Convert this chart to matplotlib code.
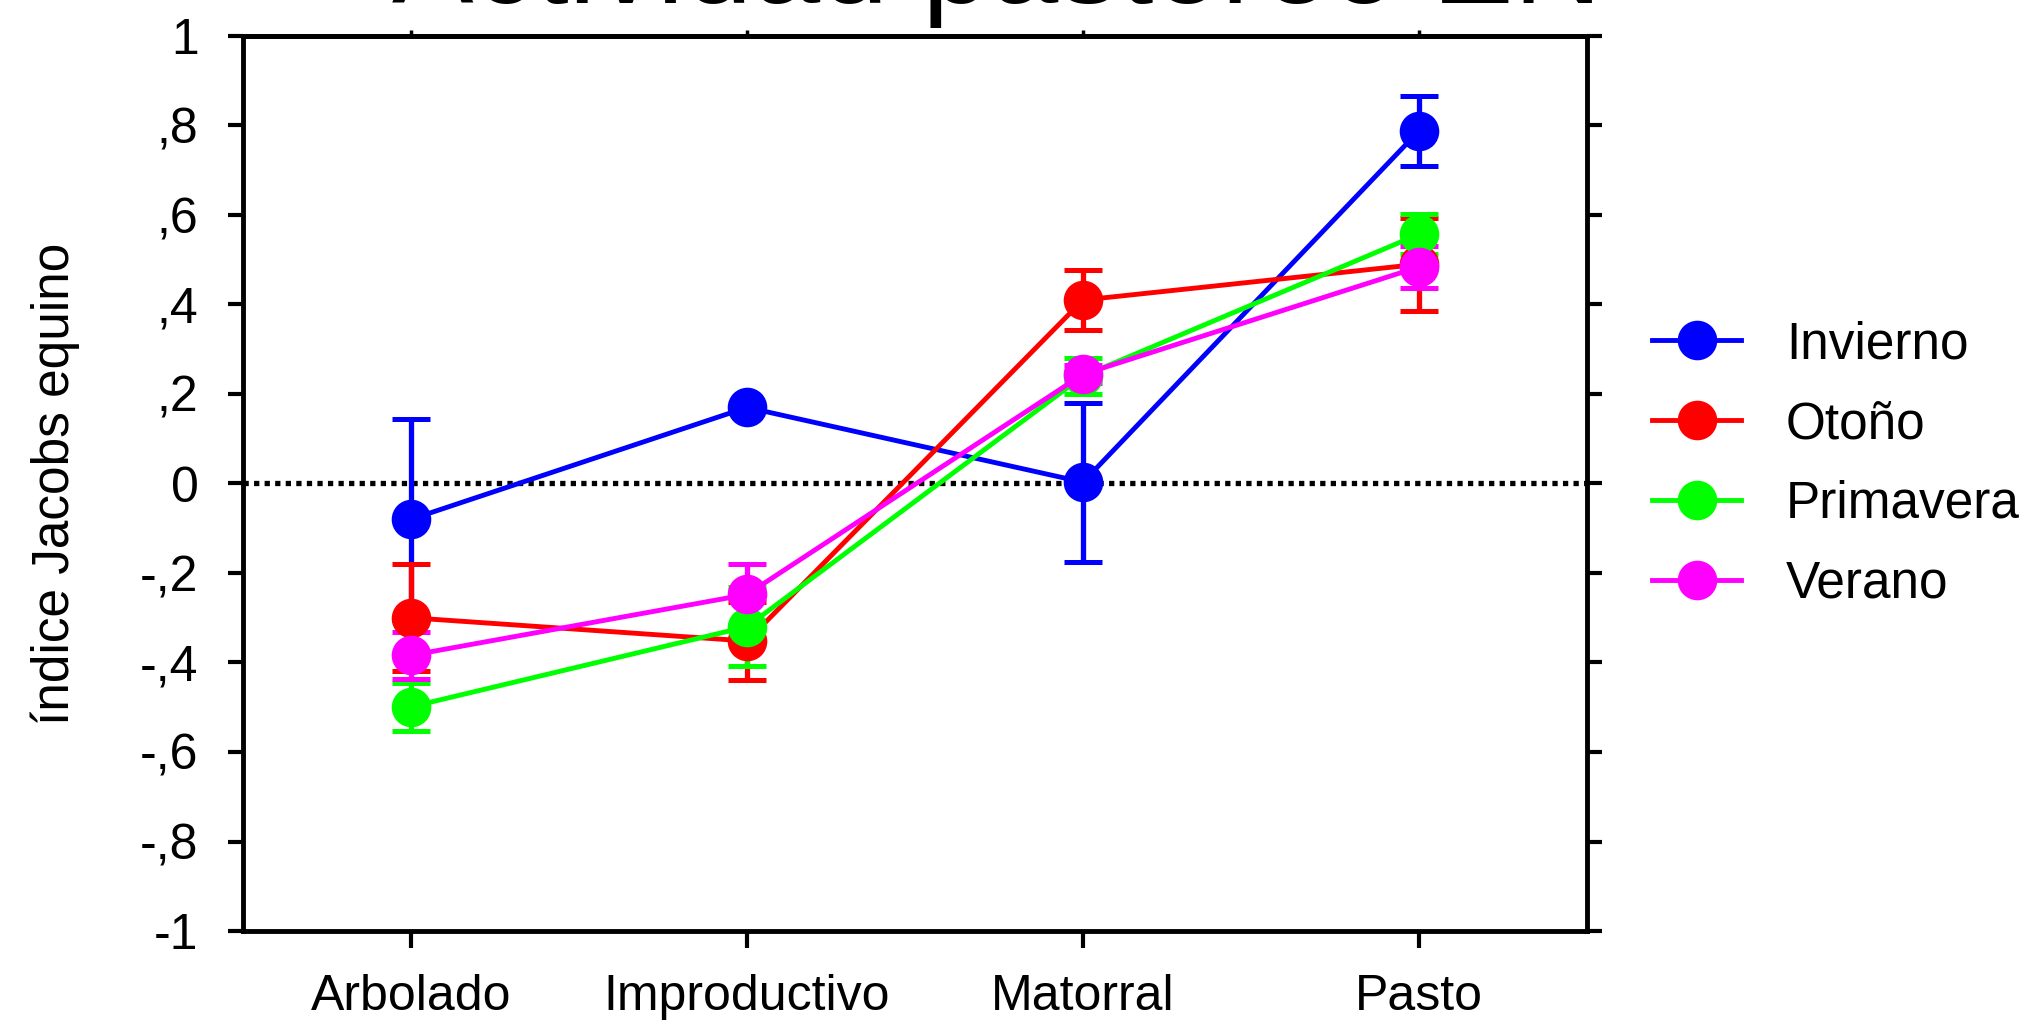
import matplotlib
matplotlib.use("Agg")
import matplotlib.pyplot as plt
import numpy as np

plt.rcParams['font.family'] = ['Liberation Sans', 'DejaVu Sans']

categories = ["Arbolado", "Improductivo", "Matorral", "Pasto"]
series = ["Invierno", "Otoño", "Primavera", "Verano"]
colors = ["#0000FF", "#FF0000", "#00FF00", "#FF00FF"]

invierno = [-0.08, 0.17, 0.003, 0.788]
invierno_err = [0.225, 0.0, 0.178, 0.078]
otono = [-0.30, -0.352, 0.41, 0.49]
otono_err = [0.12, 0.088, 0.068, 0.104]
primavera = [-0.499, -0.32, 0.24, 0.557]
primavera_err = [0.054, 0.088, 0.041, 0.045]
verano = [-0.384, -0.248, 0.244, 0.484]
verano_err = [0.053, 0.069, 0.02, 0.047]

yticks = [1, 0.8, 0.6, 0.4, 0.2, 0, -0.2, -0.4, -0.6, -0.8, -1]
ytick_labels = ["1", ",8", ",6", ",4", ",2", "0", "-,2", "-,4", "-,6", "-,8", "-1"]

title = "Actividad pastoreo EN"
ylabel = "índice Jacobs equino"

fig = plt.figure(figsize=(20.23, 10.21), dpi=100)
ax = fig.add_axes([243/2023, 90/1021, 1344/2023, 895/1021])

x = np.arange(len(categories))
ax.axhline(0, color='black', lw=3.8, linestyle=(0, (1, 1)), zorder=1)

handles = []
for vals, errs, col, name in zip([invierno, otono, primavera, verano],
                                 [invierno_err, otono_err, primavera_err, verano_err],
                                 colors, series):
    c = ax.errorbar(x, vals, yerr=errs, color=col, ecolor=col, lw=3.5,
                    elinewidth=3.8, capsize=14, capthick=3.6,
                    marker='o', markersize=27.5, markeredgecolor=col,
                    markerfacecolor=col, label=name, zorder=3)
    handles.append(c[0])

ax.set_xlim(-0.5, 3.5)
ax.set_ylim(-1, 1)
ax.set_xticks(x)
ax.set_xticklabels(categories, fontsize=36)
ax.set_yticks(yticks)
ax.set_yticklabels(ytick_labels, fontsize=36)
ax.tick_params(axis='y', left=True, right=True, direction='out', length=11,
               width=3, pad=21)
ax.tick_params(axis='x', bottom=True, top=False, direction='out', length=12,
               width=3, pad=19)
for s in ax.spines.values():
    s.set_linewidth(3.5)

sec = ax.secondary_xaxis('top')
sec.set_xticks(x)
sec.set_xticklabels([])
sec.tick_params(direction='out', length=4, width=2.5)
sec.spines['top'].set_linewidth(3.5)

ax.set_ylabel(ylabel, fontsize=37)
ax.yaxis.set_label_coords(-0.121, 0.5)

fig.text(0.493, 0.997, title, fontsize=88, ha='center', va='baseline')

leg = fig.legend(handles=handles, labels=series, loc='center left',
                 bbox_to_anchor=(1652/2023, 1 - 464.5/1021), frameon=False,
                 fontsize=37, handlelength=1.74, handletextpad=0.87,
                 labelspacing=0.6, borderpad=0, borderaxespad=0)

fig.savefig("out.png", dpi=100)
